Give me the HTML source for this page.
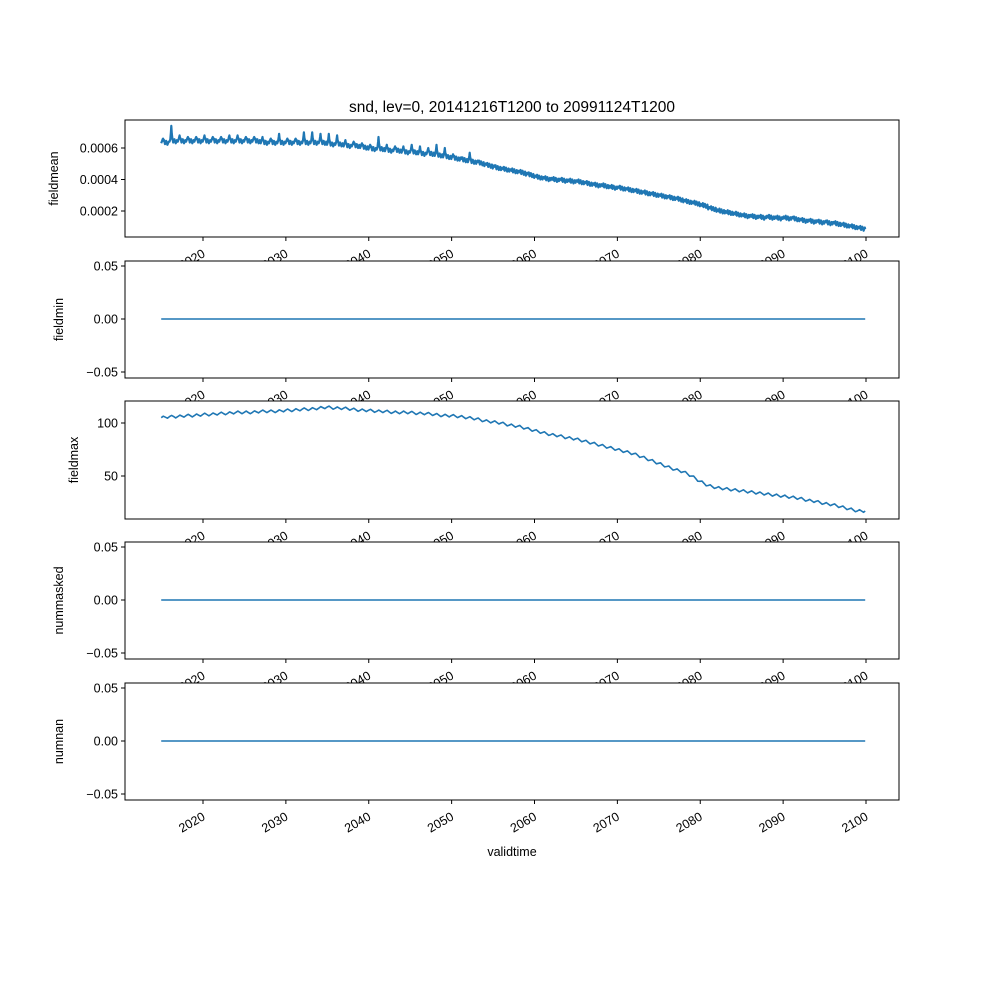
<!DOCTYPE html>
<html><head><meta charset="utf-8"><style>
body{margin:0;background:#fff}
svg{display:block;font-family:"Liberation Sans","DejaVu Sans",sans-serif}
</style></head><body>
<svg id="fig" width="1000" height="1000" viewBox="0 0 1000 1000"></svg>
<script>
const years=[2015,2016,2017,2018,2019,2020,2021,2022,2023,2024,2025,2026,2027,2028,2029,2030,2031,2032,2033,2034,2035,2036,2037,2038,2039,2040,2041,2042,2043,2044,2045,2046,2047,2048,2049,2050,2051,2052,2053,2054,2055,2056,2057,2058,2059,2060,2061,2062,2063,2064,2065,2066,2067,2068,2069,2070,2071,2072,2073,2074,2075,2076,2077,2078,2079,2080,2081,2082,2083,2084,2085,2086,2087,2088,2089,2090,2091,2092,2093,2094,2095,2096,2097,2098,2099];
const meanBase=[6.3,6.4,6.4,6.4,6.4,6.4,6.4,6.4,6.4,6.4,6.4,6.4,6.3,6.3,6.3,6.3,6.3,6.3,6.3,6.3,6.2,6.2,6.1,6.1,6.0,5.9,5.9,5.8,5.8,5.7,5.7,5.6,5.6,5.5,5.4,5.3,5.2,5.1,5.0,4.85,4.7,4.6,4.5,4.4,4.25,4.1,4.0,3.95,3.9,3.85,3.8,3.7,3.6,3.55,3.45,3.4,3.3,3.2,3.1,3.0,2.9,2.8,2.7,2.55,2.45,2.3,2.1,1.95,1.85,1.75,1.65,1.6,1.55,1.55,1.5,1.5,1.45,1.35,1.3,1.25,1.2,1.15,1.05,0.95,0.85];
const meanPeak=[6.6,7.4,6.8,6.7,6.7,6.8,6.7,6.7,6.8,6.8,6.7,6.7,6.7,6.6,6.9,6.6,6.6,7.0,7.0,6.9,6.9,6.8,6.5,6.4,6.3,6.2,6.7,6.2,6.1,6.1,6.2,6.1,6.0,6.2,6.0,5.6,5.4,5.7,5.2,5.0,4.9,4.7,4.6,4.5,4.4,4.2,4.1,4.0,4.0,3.9,3.9,3.8,3.7,3.6,3.5,3.5,3.4,3.3,3.2,3.1,3.0,2.9,2.8,2.65,2.5,2.35,2.2,2.0,1.9,1.8,1.7,1.65,1.6,1.6,1.55,1.55,1.6,1.45,1.4,1.35,1.35,1.25,1.15,1.05,0.95];
const maxVals=[105,106,106,107,107,108,108,109,109,110,110,110,111,111,111,112,112,113,113,114,115,114,114,113,112,112,111,111,110,110,110,109,109,108,107,107,106,105,104,102,101,100,98,97,95,93,91,89,88,86,85,83,81,79,77,75,73,71,68,65,62,59,56,54,50,45,41,39,38,37,36,35,34,33,32,31,30,29,27,26,24,23,21,19,17];
const minVals=years.map(()=>0);
const maskedVals=years.map(()=>0);
const nanVals=years.map(()=>0);
const xTicks=[2020,2030,2040,2050,2060,2070,2080,2090,2100];

const NS="http://www.w3.org/2000/svg";
const svg=document.getElementById('fig');
function el(t,a,p){const e=document.createElementNS(NS,t);for(const k in a)e.setAttribute(k,a[k]);(p||svg).appendChild(e);return e;}
const L=125,R=899;
const X=y=>203+(y-2020)*8.2875;
const panels=[
 {name:'fieldmean',top:120,bot:237,vals:meanBase,peak:meanPeak,y:v=>148-(v-6)*15.75,ticks:[[6,'0.0006'],[4,'0.0004'],[2,'0.0002']],lab:'fieldmean',labx:58},
 {name:'fieldmin',top:261,bot:378,vals:minVals,y:v=>319-v*1060,ticks:[[0.05,'0.05'],[0,'0.00'],[-0.05,'−0.05']],lab:'fieldmin',labx:63},
 {name:'fieldmax',top:401,bot:519,vals:maxVals,y:v=>423-(v-100)*1.06,ticks:[[100,'100'],[50,'50']],lab:'fieldmax',labx:78},
 {name:'nummasked',top:542,bot:659,vals:maskedVals,y:v=>600-v*1060,ticks:[[0.05,'0.05'],[0,'0.00'],[-0.05,'−0.05']],lab:'nummasked',labx:63},
 {name:'numnan',top:683,bot:800,vals:nanVals,y:v=>741-v*1060,ticks:[[0.05,'0.05'],[0,'0.00'],[-0.05,'−0.05']],lab:'numnan',labx:63}
];
el('text',{x:512,y:112,'text-anchor':'middle','font-size':'15.5',}).textContent='snd, lev=0, 20141216T1200 to 20991124T1200';
panels.forEach((p,pi)=>{
 const g=el('g',{});
 
 
 el('rect',{x:L,y:p.top,width:R-L,height:p.bot-p.top,fill:'#fff',stroke:'none'},g);
 let d='';const start=2014.96;
 for(let i=0;i<years.length;i++){
  const yr=years[i];const base=p.vals[i];
  if(p.peak){
   const pk=p.peak[i];
   const pts=[[0,base],[0.1,base+0.15],[0.17,(base+pk)/2+0.1],[0.22,pk],[0.28,(base+pk)/2],[0.35,base+0.2],[0.45,base-0.05],[0.6,base+0.15],[0.75,base-0.1],[0.9,base+0.1]];
   pts.forEach(q=>{const t=yr-0.04+q[0];if(t<start)return;d+=(d?'L':'M')+X(t).toFixed(1)+','+p.y(q[1]).toFixed(1);});
  } else if(pi===2){
   const nx=i+1<years.length?p.vals[i+1]:base;
   for(let k=0;k<4;k++){const f=k/4;const v=base+(nx-base)*f+(k===1?1.2:k===3?-1.2:0);d+=(d?'L':'M')+X(yr+f-0.04).toFixed(1)+','+p.y(v).toFixed(1);}
  } else {
   d+=(d?'L':'M')+X(yr-0.04).toFixed(1)+','+p.y(base).toFixed(1);
  }
 }
 const last=p.vals[p.vals.length-1];
 d+='L'+X(2099.9).toFixed(1)+','+p.y(last).toFixed(1);
 const line=el('path',{d:d,fill:'none',stroke:'#1f77b4','stroke-width':p.peak?2.2:1.6,'stroke-linejoin':'round'},g);
 
 
 const fr=el('rect',{x:L,y:p.top,width:R-L,height:p.bot-p.top,fill:'none',stroke:'#000','stroke-width':1},g);
 
 
 p.ticks.forEach(t=>{const yy=p.y(t[0]);
  el('line',{x1:L-4,x2:L,y1:yy,y2:yy,stroke:'#000'},g);
  const tx=el('text',{x:L-7,y:yy+4.5,'text-anchor':'end','font-size':'12.5'},g);tx.textContent=t[1];
  
  
 });
 const yl=el('text',{x:p.labx,y:(p.top+p.bot)/2,'text-anchor':'middle','font-size':'12.5',transform:`rotate(-90 ${p.labx} ${(p.top+p.bot)/2})`},g);
 yl.textContent=p.lab;
 
 
 xTicks.forEach(t=>{const xx=X(t);
  el('line',{x1:xx,x2:xx,y1:p.bot,y2:p.bot+4,stroke:'#000'},g);
  const tx=el('text',{x:xx+3,y:p.bot+19,'text-anchor':'end','font-size':'12.5',transform:`rotate(-30 ${xx+3} ${p.bot+19})`},g);
  tx.textContent=String(t);
  
  
 });
});
const xl=el('text',{x:512,y:856,'text-anchor':'middle','font-size':'12.5'});
xl.textContent='validtime';


</script>
</body></html>
